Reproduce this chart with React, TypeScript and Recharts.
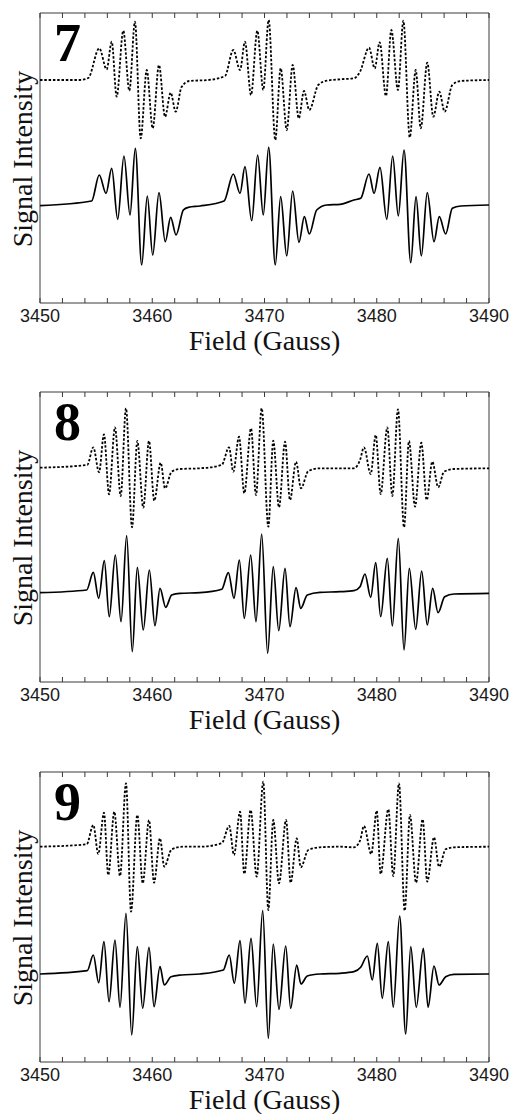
import { Label, Line, LineChart, ReferenceArea, ReferenceLine, XAxis, YAxis } from 'recharts';

type Pt = [number, number]; // [field (G), signal (a.u.)]

// panel 7
const sim7: Pt[] = [
  [3450, 223], [3453.5, 223], [3454.3, 225], [3455.28, 254.7], [3455.94, 233.7], [3456.39, 261.3],
  [3456.83, 206.3], [3457.42, 272.3], [3457.96, 212.3], [3458.46, 281.3], [3458.97, 164.7], [3459.51, 233],
  [3460.04, 174.7], [3460.6, 238], [3461.14, 186.3], [3461.64, 210.3], [3462.09, 191.3], [3462.6, 215.7],
  [3463.3, 222], [3465, 223], [3466.48, 227], [3467.22, 253], [3467.82, 233], [3468.26, 261.3],
  [3468.8, 208], [3469.36, 272.3], [3469.89, 213], [3470.37, 283], [3470.96, 163], [3471.44, 234.7],
  [3471.98, 173], [3472.51, 238], [3473.05, 184.7], [3473.52, 212], [3473.99, 193], [3474.79, 218],
  [3475.54, 222.3], [3476.73, 223.7], [3477.97, 224.7], [3478.51, 231.3], [3479.31, 255.3], [3479.82, 234.7],
  [3480.26, 260.7], [3480.82, 207], [3481.3, 273], [3481.89, 213], [3482.37, 282.3], [3482.94, 165.7],
  [3483.47, 233], [3483.92, 174.7], [3484.5, 240.3], [3485.04, 186.3], [3485.57, 211.3], [3486.05, 191.3],
  [3486.73, 218], [3487.48, 222], [3490, 223],
];
const exp7: Pt[] = [
  [3450, 97.3], [3454.6, 102], [3455.28, 128], [3455.88, 109.7], [3456.39, 134.7], [3456.92, 83.7],
  [3457.48, 147], [3458.02, 88], [3458.49, 154.7], [3459.06, 38], [3459.56, 107], [3460.04, 48],
  [3460.6, 110.3], [3461.16, 61.3], [3461.64, 85.7], [3462.12, 68], [3462.77, 93], [3463.21, 95.7],
  [3464.25, 97], [3466.4, 102], [3467.22, 129], [3467.82, 109.7], [3468.26, 136.3], [3468.86, 82.3],
  [3469.39, 148], [3469.89, 88], [3470.37, 155.7], [3470.96, 38], [3471.44, 106.3], [3471.98, 47],
  [3472.51, 112], [3473.07, 60.7], [3473.55, 86.3], [3473.99, 69], [3474.65, 93], [3475.54, 98],
  [3476.73, 98.7], [3477.97, 103], [3478.57, 104.7], [3479.31, 129], [3479.76, 109.7], [3480.29, 135.7],
  [3480.89, 83.7], [3481.42, 147], [3481.92, 87], [3482.43, 153], [3483.03, 40.3], [3483.5, 106.3],
  [3483.97, 47], [3484.5, 110.3], [3485.1, 61.3], [3485.57, 86.3], [3486.14, 69], [3486.73, 94.7],
  [3487.48, 97], [3490, 98],
];

// panel 8
const sim8: Pt[] = [
  [3450, 214.3], [3454.21, 217], [3454.75, 234.7], [3455.26, 209.7], [3455.7, 247.7], [3456.15, 187.7],
  [3456.68, 254.7], [3457.19, 186], [3457.66, 273.7], [3458.2, 154.7], [3458.67, 241], [3459.2, 174.3],
  [3459.71, 241], [3460.18, 181.3], [3460.75, 219.3], [3461.14, 193.7], [3461.73, 210.3], [3462.47, 213],
  [3464.25, 213.7], [3466.19, 217], [3466.84, 234.7], [3467.22, 210.3], [3467.73, 245.3], [3468.2, 188.7],
  [3468.8, 253.7], [3469.24, 187], [3469.75, 273.7], [3470.34, 155.3], [3470.78, 241.3], [3471.29, 174.7],
  [3471.83, 240.3], [3472.27, 182], [3472.81, 220.3], [3473.25, 193.7], [3473.9, 211], [3474.94, 213.7],
  [3476.73, 213.7], [3477.97, 213.7], [3478.51, 222], [3478.86, 234.7], [3479.46, 208], [3479.91, 247],
  [3480.35, 188], [3480.94, 254.7], [3481.39, 186], [3481.89, 272.7], [3482.43, 154.7], [3482.87, 241],
  [3483.41, 175.3], [3483.97, 239.3], [3484.45, 182], [3484.95, 220.3], [3485.48, 194.7], [3485.99, 210.3],
  [3486.88, 213], [3490, 213.7],
];
const exp8: Pt[] = [
  [3450, 89.3], [3454.16, 92], [3454.75, 109.7], [3455.23, 83.7], [3455.73, 121.3], [3456.17, 65.3],
  [3456.71, 127], [3457.22, 60.3], [3457.72, 146.3], [3458.22, 30.3], [3458.67, 114.7], [3459.2, 52],
  [3459.74, 112], [3460.24, 56.3], [3460.69, 93.7], [3461.2, 74.7], [3461.73, 87], [3462.47, 88.7],
  [3464.25, 89.3], [3466.19, 92.7], [3466.78, 109.3], [3467.28, 83.7], [3467.76, 122], [3468.2, 63.7],
  [3468.77, 127], [3469.24, 60.3], [3469.75, 148], [3470.28, 28.7], [3470.78, 115.3], [3471.27, 51.3],
  [3471.83, 113.7], [3472.27, 55.3], [3472.81, 94.3], [3473.23, 73.7], [3473.81, 87], [3474.94, 89.7],
  [3476.73, 90.3], [3477.97, 91.3], [3478.51, 95.3], [3478.95, 108], [3479.46, 84.7], [3479.91, 119.3],
  [3480.35, 65.3], [3480.94, 123.7], [3481.39, 56], [3481.92, 143.7], [3482.43, 32], [3482.9, 113.7],
  [3483.47, 52.7], [3484, 111], [3484.5, 57], [3484.98, 93.7], [3485.46, 69.3], [3486.05, 85.3],
  [3486.88, 88], [3490, 88.7],
];

// panel 9
const sim9: Pt[] = [
  [3450, 215.3], [3454.16, 217.7], [3454.75, 237], [3455.19, 208], [3455.7, 249.3], [3456.08, 187],
  [3456.62, 250.3], [3457.13, 186], [3457.66, 278.7], [3458.11, 150.3], [3458.67, 247], [3459.15, 178.7],
  [3459.71, 242], [3460.16, 179.3], [3460.69, 223.7], [3461.07, 195.3], [3461.73, 212.7], [3462.77, 215.3],
  [3464.25, 215.3], [3466.19, 218.7], [3466.86, 236], [3467.28, 207], [3467.82, 250.3], [3468.2, 188],
  [3468.77, 252], [3469.3, 185.3], [3469.89, 280.3], [3470.34, 152], [3470.78, 242], [3471.29, 178.7],
  [3471.92, 242], [3472.33, 179.3], [3472.87, 223.7], [3473.23, 194.7], [3473.9, 212], [3474.94, 214.7],
  [3476.73, 215.3], [3477.97, 214.7], [3478.51, 221.3], [3478.86, 236], [3479.51, 208], [3480, 251.3],
  [3480.35, 188], [3481.03, 252.7], [3481.47, 186], [3481.98, 278.7], [3482.49, 151.3], [3482.96, 247],
  [3483.5, 179.3], [3484.09, 242.7], [3484.5, 180.3], [3485.1, 224.7], [3485.55, 195.3], [3486.14, 212.7],
  [3486.88, 214.7], [3490, 215.3],
];
const exp9: Pt[] = [
  [3450, 88], [3454.21, 91.3], [3454.75, 107], [3455.23, 79.3], [3455.7, 120.3], [3456.15, 60.3],
  [3456.68, 122], [3457.13, 54.7], [3457.66, 148.7], [3458.17, 27], [3458.67, 115.3], [3459.15, 53.7],
  [3459.71, 114.7], [3460.16, 55.3], [3460.69, 95.3], [3461.07, 77], [3461.67, 85.3], [3462.62, 87],
  [3464.25, 88], [3466.33, 92], [3466.86, 107], [3467.31, 78.7], [3467.82, 121.3], [3468.26, 58.7],
  [3468.8, 123.7], [3469.3, 55.3], [3469.84, 151.3], [3470.34, 23.7], [3470.78, 118], [3471.29, 52.7],
  [3471.89, 116], [3472.33, 53.7], [3472.87, 97], [3473.25, 78], [3473.81, 86], [3474.94, 88],
  [3476.73, 88.7], [3477.97, 90.3], [3478.57, 94.7], [3479.16, 106], [3479.6, 82], [3480.05, 118.7],
  [3480.49, 63.7], [3481.03, 120.3], [3481.47, 54.7], [3482.04, 146], [3482.58, 28], [3483.03, 115.3],
  [3483.52, 54.7], [3484.15, 113.7], [3484.57, 54.7], [3485.1, 96], [3485.55, 77], [3486.14, 85.3],
  [3486.88, 87.7], [3490, 88],
];

const FIELD_TICKS = [
  3450, 3452, 3454, 3456, 3458, 3460, 3462, 3464, 3466, 3468, 3470,
  3472, 3474, 3476, 3478, 3480, 3482, 3484, 3486, 3488, 3490,
];
const FIELD_LABELS = [3450, 3460, 3470, 3480, 3490];
const Y_MIN = 0;
const Y_MAX = 290;
const TICK_LEN = 5;

const FRAME = '#3a3a3a';
const SERIF = '"Liberation Serif", "Times New Roman", serif';
const SANS = '"Liberation Sans", Arial, sans-serif';

const toRows = (pts: Pt[]) => pts.map(([field, signal]) => ({ field, signal }));

function FieldTick({ x, y, payload }: any) {
  if (!FIELD_LABELS.includes(payload.value)) return <g />;
  return (
    <text x={x} y={y + 19} textAnchor="middle" fontFamily={SANS} fontSize={18} fill="#1a1a1a">
      {payload.value}
    </text>
  );
}

function Panel({ top, num, sim, exp }: { top: number; num: string; sim: Pt[]; exp: Pt[] }) {
  return (
    <div style={{ position: 'absolute', left: 0, top }}>
      <LineChart width={514} height={360} margin={{ top: 13, right: 25, bottom: 0, left: 40 }}>
        <XAxis
          dataKey="field"
          type="number"
          domain={[3450, 3490]}
          ticks={FIELD_TICKS}
          interval={0}
          tickSize={0}
          tickMargin={0}
          tickLine={false}
          tick={<FieldTick />}
          height={57}
          axisLine={false}
          allowDataOverflow
        >
          <Label
            content={() => (
              <g>
                <text x={264.5} y={350} textAnchor="middle" fontFamily={SERIF} fontSize={28} fill="#111">
                  Field (Gauss)
                </text>
                <text
                  transform="translate(32,159) rotate(-90)"
                  textAnchor="middle"
                  fontFamily={SERIF}
                  fontSize={28}
                  fill="#111"
                >
                  Signal Intensity
                </text>
                <text x={54} y={61} fontFamily={SERIF} fontWeight="bold" fontSize={54} fill="#000">
                  {num}
                </text>
              </g>
            )}
          />
        </XAxis>
        <YAxis type="number" domain={[Y_MIN, Y_MAX]} hide allowDataOverflow />
        <ReferenceArea
          x1={3450}
          x2={3490}
          y1={Y_MIN}
          y2={Y_MAX}
          fill="none"
          fillOpacity={0}
          stroke={FRAME}
          strokeWidth={1}
        />
        {FIELD_TICKS.map((f) => (
          <ReferenceLine
            key={`b${f}`}
            segment={[{ x: f, y: Y_MIN }, { x: f, y: Y_MIN + TICK_LEN }]}
            stroke={FRAME}
            strokeWidth={1}
          />
        ))}
        {FIELD_TICKS.map((f) => (
          <ReferenceLine
            key={`t${f}`}
            segment={[{ x: f, y: Y_MAX }, { x: f, y: Y_MAX - TICK_LEN }]}
            stroke={FRAME}
            strokeWidth={1}
          />
        ))}
        <Line
          data={toRows(sim)}
          dataKey="signal"
          type="monotone"
          stroke="#000"
          strokeWidth={1.8}
          strokeDasharray="2.5 1.8"
          dot={false}
          isAnimationActive={false}
        />
        <Line
          data={toRows(exp)}
          dataKey="signal"
          type="monotone"
          stroke="#000"
          strokeWidth={1.7}
          dot={false}
          isAnimationActive={false}
        />
      </LineChart>
    </div>
  );
}

export default function App() {
  return (
    <div style={{ position: 'absolute', left: 0, top: 0, width: 514, height: 1114, background: '#fff', overflow: 'hidden' }}>
      <Panel top={0} num="7" sim={sim7} exp={exp7} />
      <Panel top={379} num="8" sim={sim8} exp={exp8} />
      <Panel top={759} num="9" sim={sim9} exp={exp9} />
    </div>
  );
}
